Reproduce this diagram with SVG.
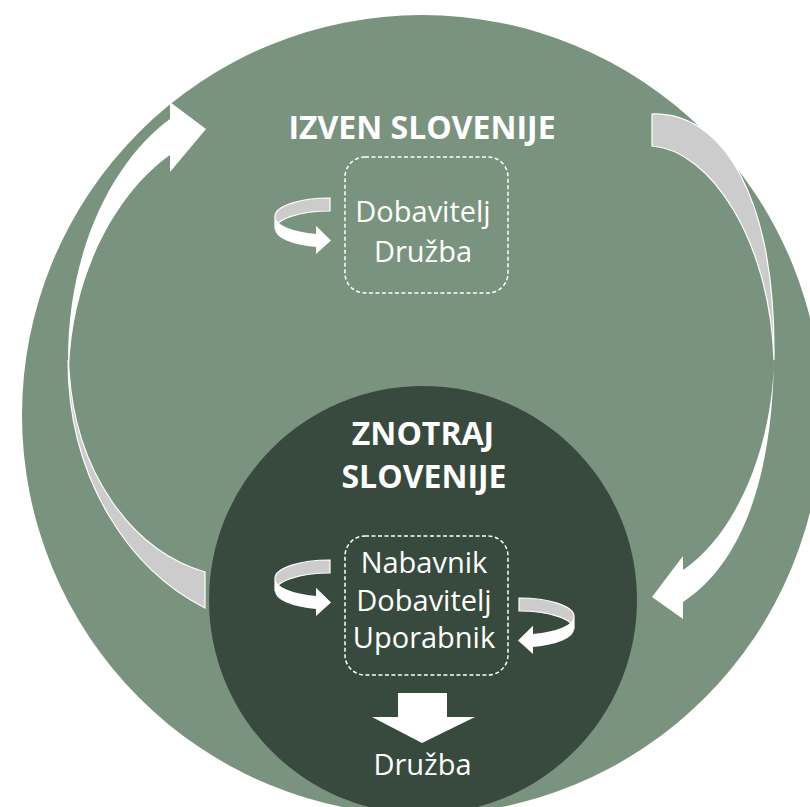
<svg xmlns="http://www.w3.org/2000/svg" xmlns:xlink="http://www.w3.org/1999/xlink" width="810" height="807" viewBox="0 0 810 807">
<style>
.t{font-family:"Open Sans","Liberation Sans",sans-serif;fill:#ffffff;text-anchor:middle}
.b{font-weight:bold;font-size:32px}
.r{font-size:29px}
.box{fill:none;stroke:#ffffff;stroke-width:1.5;stroke-dasharray:4 2.5}
.back{fill:#cccccc;stroke:#ffffff;stroke-width:1.2}
.front{fill:#ffffff}
</style>
<defs>
<g id="uturn">
<path class="back" d="M0,0 A55,18.3 0 0 0 -55,18.3 L-55,31.3 A55,18.3 0 0 1 0,13 Z"/>
<path class="front" d="M-55,18.3 L-55,31.3 A55,18.3 0 0 0 -14,49 L-14,56 L1,42.5 L-14,27.7 L-14,36 A55,18.3 0 0 1 -55,18.3 Z"/>
</g>
</defs>
<rect width="810" height="807" fill="#ffffff"/>
<g id="outer">
<circle cx="422" cy="415" r="400" fill="#7a937e"/>
<text class="t b" x="422" y="139">IZVEN SLOVENIJE</text>
</g>
<g id="outer-box">
<rect class="box" x="345" y="157" width="163" height="136" rx="20"/>
<text class="t r" x="423" y="222">Dobavitelj</text>
<text class="t r" x="423" y="262">Družba</text>
</g>
<g id="inner">
<circle cx="423" cy="600" r="214" fill="#384a3e"/>
<text class="t b" x="423" y="445">ZNOTRAJ</text>
<text class="t b" x="424" y="488">SLOVENIJE</text>
</g>
<g id="inner-box">
<rect class="box" x="345" y="536" width="163" height="139" rx="20"/>
<text class="t r" x="424" y="573">Nabavnik</text>
<text class="t r" x="424" y="611">Dobavitelj</text>
<text class="t r" x="424" y="648">Uporabnik</text>
</g>
<g id="society">
<text class="t r" x="422.5" y="775">Družba</text>
</g>
<g id="connectors">
<path class="back" d="M68,360 C68,480 130,570 205,608 L205,572 C130,550 75,470 69,370 Z"/>
<path class="front" d="M68,360 C68,240 120,155 170,119 L170,102 L206,129 L170,172 L170,155 C120,190 72,270 69,370 Z"/>
<path class="back" d="M652,114 C725,112 774,200 774,350 L774,360 C770,240 710,150 652,146 Z"/>
<path class="front" d="M774,350 C774,480 740,565 683,602 L683,619 L652,597 L683,556 L683,570 C735,535 772,450 774,360 Z"/>
<use xlink:href="#uturn" transform="translate(330,198)"/>
<use xlink:href="#uturn" transform="translate(330,560)"/>
<use xlink:href="#uturn" transform="translate(519,598) scale(-1,1)"/>
<path class="front" d="M398,693 L447,693 L447,717 L475,717 L422,743 L372,717 L398,717 Z"/>
</g>
</svg>
